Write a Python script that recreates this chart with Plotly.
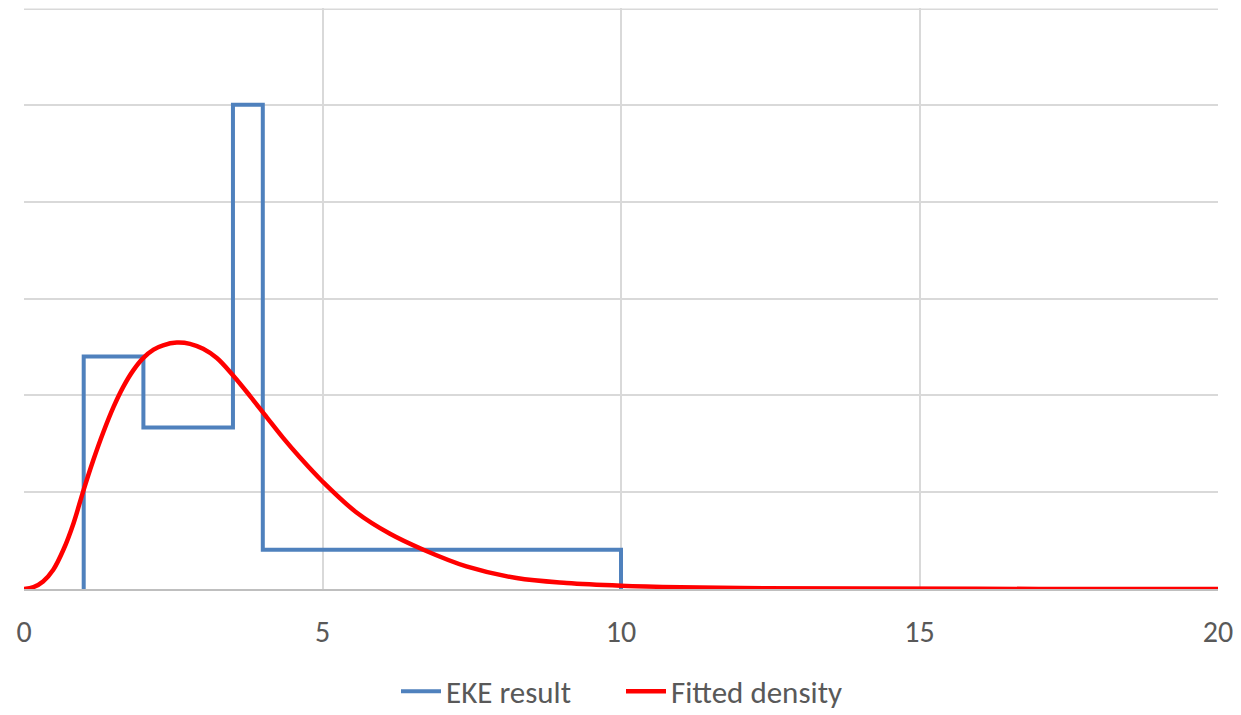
import plotly.graph_objects as go

# EKE result: bin edges and densities
bin_edges = [1, 2, 3.5, 4, 10]
bin_density = [0.24, 0.1667, 0.5, 0.0405]

# Fitted density
fit_x = [0, 0.16, 0.32, 0.49, 0.66, 0.83, 0.99, 1.16, 1.33, 1.5, 1.66, 1.83, 2.0,
         2.17, 2.33, 2.56, 2.78, 3.0, 3.23, 3.51, 3.79, 4.07, 4.34, 4.62, 5.0,
         5.57, 6.13, 6.69, 7.41, 8.25, 9.09, 10.0, 11.0, 12.0, 14.0, 17.0, 20.0]
fit_y = [0, 0.002, 0.0078, 0.0199, 0.0405, 0.068, 0.1006, 0.1329, 0.1621, 0.188, 0.2085,
         0.2258, 0.2387, 0.2472, 0.2517, 0.2545, 0.2532, 0.248, 0.2385, 0.220, 0.199, 0.177,
         0.156, 0.136, 0.111, 0.079, 0.057, 0.0405, 0.0233, 0.0113, 0.0062,
         0.0034, 0.0018, 0.0010, 0.0004, 0.0001, 0.0]

x_ticks = [0, 5, 10, 15, 20]

# build step outline
step_x, step_y = [bin_edges[0]], [0]
for i, d in enumerate(bin_density):
    step_x += [bin_edges[i], bin_edges[i + 1]]
    step_y += [d, d]
step_x.append(bin_edges[-1])
step_y.append(0)

fig = go.Figure()
fig.add_trace(go.Scatter(x=step_x, y=step_y, mode="lines", name="EKE result",
                         line=dict(color="#4f81bd", width=4)))
fig.add_trace(go.Scatter(x=fit_x, y=fit_y, mode="lines", name="Fitted density",
                         line=dict(color="#ff0000", width=4.5, shape="spline", smoothing=1.0)))

font_fam = "Carlito, Open Sans, sans-serif"
# the page body adds an 8px margin, so the figure is sized/margined to compensate
fig.update_layout(
    width=1233, height=707,
    margin=dict(l=16, r=23, t=0, b=126, autoexpand=False),
    paper_bgcolor="white", plot_bgcolor="white",
    font=dict(family=font_fam, size=31, color="#595959"),
    showlegend=True,
    legend=dict(orientation="h", x=0.5, xanchor="center", y=-0.13, yanchor="top",
                font=dict(size=31, color="#595959"), itemwidth=40, tracegroupgap=0,
                entrywidth=170, entrywidthmode="pixels"),
    xaxis=dict(range=[0, 20], tickvals=x_ticks, ticktext=[str(t) for t in x_ticks],
               showgrid=True, gridcolor="#d9d9d9", gridwidth=1.5,
               showline=True, linecolor="#bfbfbf", linewidth=2,
               zeroline=False, ticks="", ticklabelstandoff=15, automargin=False,
               tickfont=dict(size=30, color="#595959")),
    yaxis=dict(range=[0, 0.6], dtick=0.1, showgrid=True, gridcolor="#d9d9d9", gridwidth=1.5,
               showticklabels=False, zeroline=False, showline=False, ticks="",
               automargin=False),
)
fig.add_shape(type="line", xref="paper", yref="paper", x0=0, x1=1, y0=0.998, y1=0.998,
              line=dict(color="#d9d9d9", width=1.5), layer="below")

fig.write_html("out.html")
